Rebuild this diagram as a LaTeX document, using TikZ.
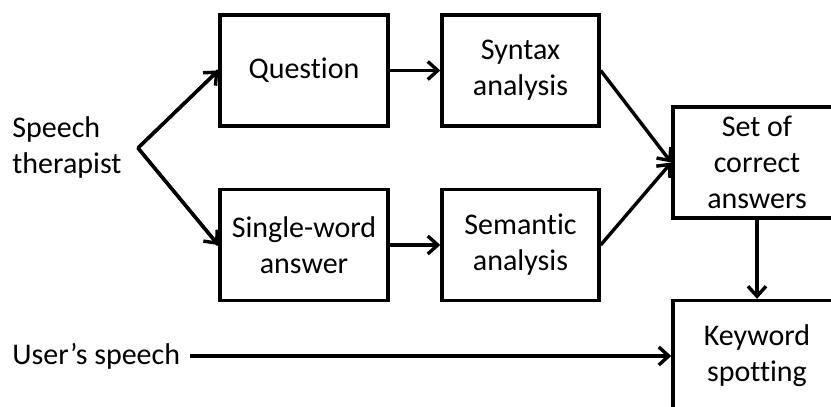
\documentclass[tikz,border=0pt]{standalone}
\usepackage{fontspec}
\setmainfont[Ligatures=NoCommon]{Carlito}
\usetikzlibrary{arrows.meta}

\tikzset{
  box/.style={draw,line width=1.7pt,minimum height=55.5pt,align=center,inner sep=0pt},
  txt/.style={align=left,inner sep=0pt},
  link/.style={line width=1.7pt,-{Straight Barb[length=5pt,width=9pt,line width=1.7pt]}}
}

\begin{document}
\begin{tikzpicture}[x=0.5pt,y=-0.5pt,font=\fontsize{15}{18}\selectfont]
\clip (0,0) rectangle (831,407);
\node[txt,anchor=west] (therapist) at (12,148) {Speech\\therapist};
\node[txt,anchor=west] (user) at (12,356) {User’s speech};
\coordinate (fork) at (138,148);
\node[box,minimum width=84pt] (question) at (304,70.5) {Question};
\node[box,minimum width=84pt] (single) at (304,245) {Single-word\\answer};
\node[box,minimum width=78.5pt] (syntax) at (520.5,70.5) {Syntax\\analysis};
\node[box,minimum width=78.5pt] (semantic) at (520.5,245) {Semantic\\analysis};
\node[box,minimum width=84pt] (answers) at (757,162.5) {Set of\\correct\\answers};
\node[box,minimum width=84pt] (keyword) at (757,356) {Keyword\\spotting};
\draw[line width=1.7pt,line join=round] (question.west) -- (fork) -- (single.west);
\draw[link] (fork) -- (question.west);
\draw[link] (fork) -- (single.west);
\draw[link] (question) -- (syntax);
\draw[link] (single) -- (semantic);
\draw[link] (syntax.east) -- (answers.west);
\draw[link] (semantic.east) -- (answers.west);
\draw[link] (answers) -- (keyword);
\draw[link] (190,356) -- (keyword.west);
\end{tikzpicture}
\end{document}
